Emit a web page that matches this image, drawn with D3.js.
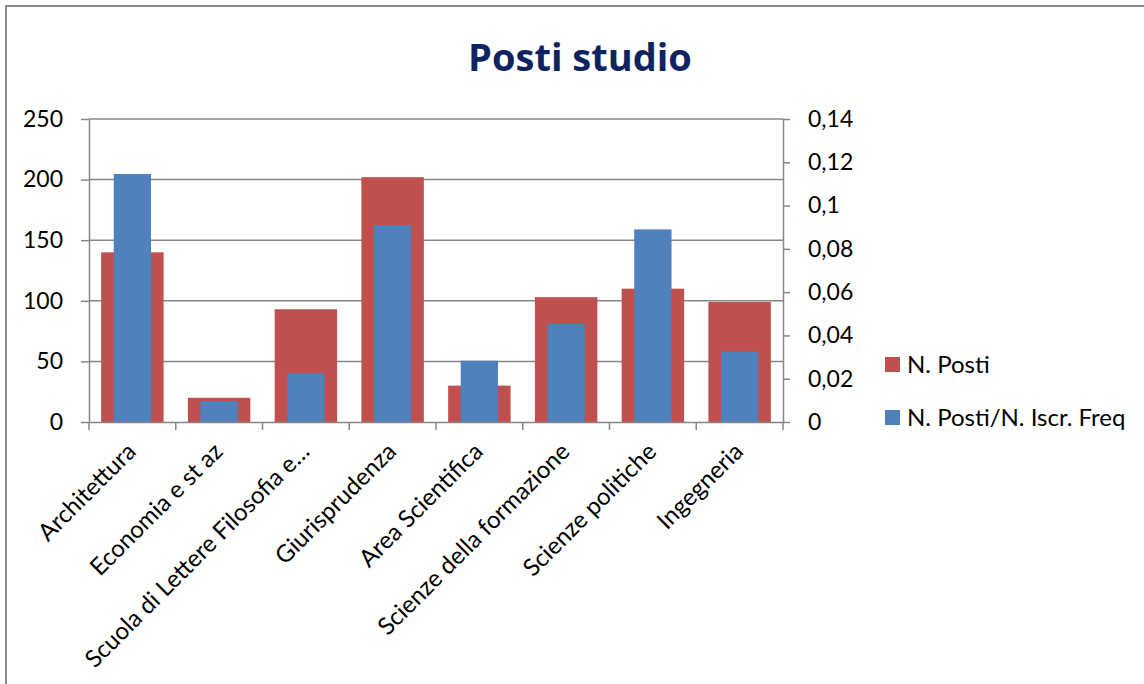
<!DOCTYPE html>
<html>
<head>
<meta charset="utf-8">
<script src="https://cdn.jsdelivr.net/npm/d3@7"></script>
<style>
  body { margin: 0; background: #fff; }
  text { font-family: Lato, "Open Sans", sans-serif; }
</style>
</head>
<body>
<svg id="chart" width="1144" height="684"></svg>
<script>
// data
const categories = ['Architettura', 'Economia e st az', 'Scuola di Lettere Filosofia e…', 'Giurisprudenza',
  'Area Scientifica', 'Scienze della formazione', 'Scienze politiche', 'Ingegneria'];
const nPosti = [140, 20, 93, 202, 30, 103, 110, 99];
const nPostiIscr = [0.1146, 0.0097, 0.0225, 0.091, 0.0283, 0.0453, 0.089, 0.0325];
const leftTicks = [0, 50, 100, 150, 200, 250];
const rightTicks = [0, 0.02, 0.04, 0.06, 0.08, 0.1, 0.12, 0.14];
const seriesNames = ['N. Posti', 'N. Posti/N. Iscr. Freq'];

const red = '#C0504D', blue = '#4F81BD', gray = '#868686';

const svg = d3.select('#chart');
const margin = { top: 119, left: 89, right: 361, bottom: 262 };
const W = 1144, H = 684;

svg.append('rect').attr('width', W).attr('height', H).attr('fill', '#fff');
// outer frame (right and bottom edges fall outside the picture)
svg.append('rect')
  .attr('x', 6).attr('y', 6).attr('width', W + 20).attr('height', H + 20)
  .attr('fill', 'none').attr('stroke', '#8c8c8c').attr('stroke-width', 2);

svg.append('text')
  .attr('x', 580).attr('y', 71)
  .attr('text-anchor', 'middle')
  .attr('font-size', 38).attr('font-weight', 'bold')
  .attr('fill', '#0e2461')
  .style('font-family', '"Open Sans", sans-serif')
  .text('Posti studio');

const x = d3.scaleBand()
  .domain(d3.range(categories.length))
  .range([margin.left, W - margin.right]);

const y = d3.scaleLinear().domain([0, 250]).range([H - margin.bottom, margin.top]);
const y2 = d3.scaleLinear().domain([0, 0.14]).range([H - margin.bottom, margin.top]);

const fmt = d3.formatLocale({ decimal: ',', thousands: '.', grouping: [3], currency: ['', ''] }).format('~g');

// gridlines
svg.append('g')
  .selectAll('line')
  .data(leftTicks.slice(1))
  .join('line')
  .attr('x1', x.range()[0]).attr('x2', x.range()[1])
  .attr('y1', d => y(d)).attr('y2', d => y(d))
  .attr('stroke', gray).attr('stroke-width', 1.5);

// bars
const bw = x.step();
svg.append('g')
  .attr('fill', red)
  .selectAll('rect')
  .data(nPosti)
  .join('rect')
  .attr('x', (d, i) => x(i) + bw * 0.14)
  .attr('width', bw * 0.72)
  .attr('y', d => y(d))
  .attr('height', d => y(0) - y(d));

svg.append('g')
  .attr('fill', blue)
  .selectAll('rect')
  .data(nPostiIscr)
  .join('rect')
  .attr('x', (d, i) => x(i) + bw * 0.285)
  .attr('width', bw * 0.43)
  .attr('y', d => y2(d))
  .attr('height', d => y2(0) - y2(d));

// axes
const leftAxis = svg.append('g')
  .attr('transform', `translate(${margin.left},0)`)
  .call(d3.axisLeft(y).tickValues(leftTicks).tickSize(8).tickSizeOuter(0).tickPadding(18));

const rightAxis = svg.append('g')
  .attr('transform', `translate(${W - margin.right},0)`)
  .call(d3.axisRight(y2).tickValues(rightTicks).tickFormat(fmt).tickSize(7).tickSizeOuter(0).tickPadding(18));

const bottomAxis = svg.append('g')
  .attr('transform', `translate(0,${y(0)})`)
  .call(d3.axisBottom(x).tickValues([]).tickSizeOuter(0));

// category boundary ticks
bottomAxis.selectAll('.bound')
  .data(d3.range(categories.length + 1))
  .join('line')
  .attr('x1', i => margin.left + i * bw).attr('x2', i => margin.left + i * bw)
  .attr('y1', 0).attr('y2', 8)
  .attr('stroke', gray).attr('stroke-width', 1.5);

[leftAxis, rightAxis, bottomAxis].forEach(g => {
  g.selectAll('path.domain').attr('stroke', gray).attr('stroke-width', 1.5);
  g.selectAll('.tick line').attr('stroke', gray).attr('stroke-width', 1.5);
  g.selectAll('.tick text').attr('font-size', 23).attr('fill', '#000')
    .style('font-family', 'Lato, "Open Sans", sans-serif');
});

// rotated category labels
svg.append('g')
  .selectAll('text')
  .data(categories)
  .join('text')
  .attr('transform', (d, i) => `translate(${x(i) + x.bandwidth() / 2 + 5},${y(0) + 31}) rotate(-45)`)
  .attr('text-anchor', 'end')
  .attr('font-size', 24)
  .attr('fill', '#000')
  .text(d => d);

// legend
const legend = svg.append('g').attr('transform', 'translate(885,357)');
const items = legend.selectAll('g')
  .data(seriesNames)
  .join('g')
  .attr('transform', (d, i) => `translate(0,${i * 53})`);
items.append('rect').attr('width', 15).attr('height', 15).attr('fill', (d, i) => i ? blue : red);
items.append('text').attr('x', 22).attr('y', 16).attr('font-size', 24).attr('fill', '#000').text(d => d);
</script>
</body>
</html>
